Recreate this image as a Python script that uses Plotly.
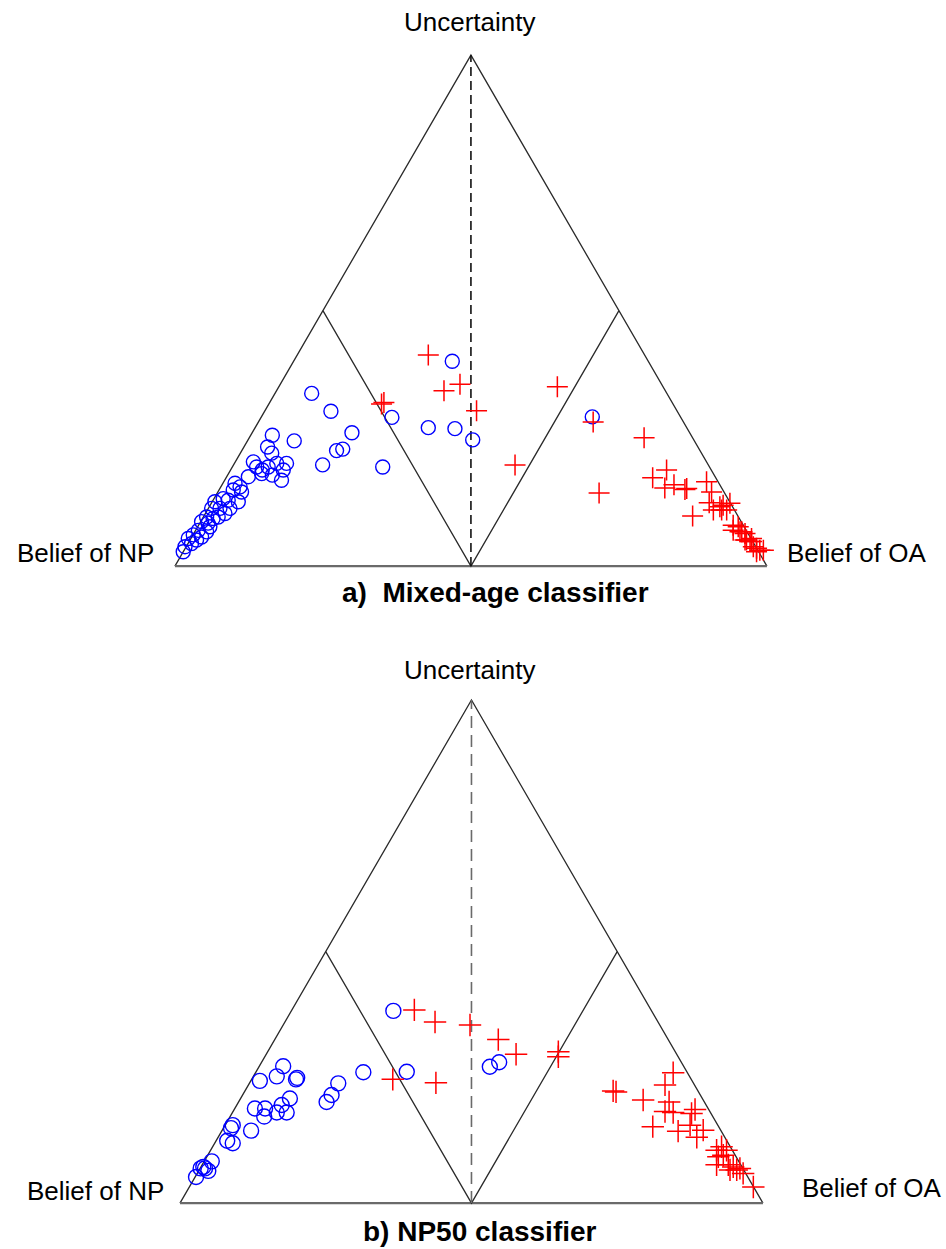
import math
import plotly.graph_objects as go

# ---- data: each sample = (belief(OA) - belief(NP), uncertainty) ----
# a) Mixed-age classifier
mixed_np_diff = [-0.538, -0.473, -0.267, -0.402, -0.501, -0.454, -0.433, -0.298,
                 -0.063, -0.144, -0.054, 0.006, 0.410,
                 -0.671, -0.597, -0.687, -0.673, -0.735, -0.724, -0.705, -0.685, -0.656, -0.623,
                 -0.634, -0.671, -0.640, -0.707, -0.752, -0.797, -0.780, -0.775, -0.803, -0.786,
                 -0.820, -0.837, -0.865, -0.848, -0.814, -0.831, -0.876, -0.871, -0.893, -0.910,
                 -0.888, -0.921, -0.893, -0.938, -0.910, -0.955, -0.927, -0.966, -0.972, -0.944,
                 -0.882, -0.854]
mixed_np_unc = [0.338, 0.303, 0.291, 0.261, 0.198, 0.226, 0.229, 0.194,
                0.401, 0.271, 0.269, 0.247, 0.292,
                0.256, 0.245, 0.233, 0.221, 0.204, 0.194, 0.188, 0.194, 0.201, 0.201,
                0.188, 0.178, 0.168, 0.181, 0.175, 0.162, 0.155, 0.145, 0.149, 0.126,
                0.129, 0.132, 0.126, 0.113, 0.113, 0.103, 0.113, 0.093, 0.096, 0.087,
                0.084, 0.070, 0.067, 0.061, 0.057, 0.054, 0.051, 0.038, 0.028, 0.044,
                0.077, 0.096]
mixed_oa_diff = [-0.144, -0.091, -0.037, 0.019, -0.302, -0.294, 0.149, 0.292, 0.413,
                 0.585, 0.433, 0.661, 0.614, 0.655, 0.686, 0.729, 0.749, 0.796, 0.813,
                 0.805, 0.819, 0.852, 0.875, 0.847, 0.864, 0.886, 0.903, 0.909, 0.926,
                 0.931, 0.948, 0.954, 0.965, 0.976, 0.988, 0.965, 0.943, 0.926, 0.948,
                 0.915, 0.886, 0.723, 0.841]
mixed_oa_unc = [0.413, 0.343, 0.356, 0.304, 0.317, 0.320, 0.198, 0.351, 0.282,
                0.251, 0.143, 0.188, 0.173, 0.153, 0.159, 0.152, 0.098, 0.165, 0.145,
                0.124, 0.110, 0.119, 0.123, 0.110, 0.110, 0.080, 0.077, 0.067, 0.064,
                0.051, 0.048, 0.038, 0.035, 0.031, 0.031, 0.028, 0.048, 0.051, 0.054,
                0.067, 0.070, 0.150, 0.116]

# b) NP50 classifier
np50_np_diff = [-0.646, -0.668, -0.726, -0.602, -0.598, -0.371, -0.222, -0.457, -0.480,
                -0.497, -0.623, -0.651, -0.634, -0.668, -0.708, -0.743, -0.711, -0.756,
                -0.819, -0.825, -0.838, -0.819, -0.891, -0.920, -0.929, -0.903, -0.945,
                -0.914, -0.268, 0.063, 0.095]
np50_np_unc = [0.272, 0.252, 0.243, 0.246, 0.249, 0.260, 0.261, 0.238, 0.215,
               0.201, 0.208, 0.195, 0.180, 0.180, 0.188, 0.188, 0.172, 0.144,
               0.155, 0.149, 0.124, 0.119, 0.083, 0.072, 0.069, 0.064, 0.052,
               0.069, 0.382, 0.271, 0.280]
np50_oa_diff = [-0.196, -0.125, -0.005, 0.092, 0.153, 0.298, 0.298, -0.270, -0.122,
                0.486, 0.496, 0.692, 0.664, 0.589, 0.678, 0.664, 0.692, 0.767, 0.755,
                0.622, 0.709, 0.750, 0.795, 0.773, 0.841, 0.858, 0.875, 0.847, 0.864,
                0.841, 0.881, 0.898, 0.910, 0.921, 0.932, 0.887, 0.967]
np50_oa_unc = [0.384, 0.360, 0.354, 0.325, 0.296, 0.301, 0.291, 0.246, 0.239,
               0.223, 0.221, 0.259, 0.235, 0.205, 0.201, 0.182, 0.180, 0.186, 0.178,
               0.152, 0.143, 0.155, 0.145, 0.131, 0.105, 0.112, 0.105, 0.092, 0.095,
               0.076, 0.076, 0.072, 0.066, 0.069, 0.059, 0.066, 0.032]

H = math.sqrt(3)
FONT = "Liberation Sans, Arial, sans-serif"

def to_xy(diff, unc):
    return list(diff), [u * H for u in unc]

fig = go.Figure()

def add_panel(xa, ya, np_d, np_u, oa_d, oa_u, dash_color, dash_pat, msize):
    # outer triangle
    fig.add_trace(go.Scatter(x=[-1, 0, 1], y=[0, H, 0], mode="lines",
                             line=dict(color="#2a2a2a", width=1.3),
                             xaxis=xa, yaxis=ya, hoverinfo="skip", showlegend=False))
    fig.add_trace(go.Scatter(x=[-1, 1], y=[0, 0], mode="lines",
                             line=dict(color="#6a6a6a", width=2.2),
                             xaxis=xa, yaxis=ya, hoverinfo="skip", showlegend=False))
    # inner lines
    fig.add_trace(go.Scatter(x=[-0.5, 0, 0.5], y=[H / 2, 0, H / 2], mode="lines",
                             line=dict(color="#2a2a2a", width=1.3),
                             xaxis=xa, yaxis=ya, hoverinfo="skip", showlegend=False))
    fig.add_trace(go.Scatter(x=[0, 0], y=[0, H], mode="lines",
                             line=dict(color=dash_color, width=1.6, dash=dash_pat),
                             xaxis=xa, yaxis=ya, hoverinfo="skip", showlegend=False))
    x, y = to_xy(np_d, np_u)
    fig.add_trace(go.Scatter(x=x, y=y, mode="markers", name="NP",
                             marker=dict(symbol="circle-open", size=msize, color="#0000ff",
                                         line=dict(width=1.4, color="#0000ff")),
                             xaxis=xa, yaxis=ya, showlegend=False, cliponaxis=False))
    x, y = to_xy(oa_d, oa_u)
    fig.add_trace(go.Scatter(x=x, y=y, mode="markers", name="OA",
                             marker=dict(symbol="cross-thin-open", size=msize + 1, color="#ff0000",
                                         line=dict(width=1.5, color="#ff0000")),
                             xaxis=xa, yaxis=ya, showlegend=False, cliponaxis=False))

add_panel("x", "y", mixed_np_diff, mixed_np_unc, mixed_oa_diff, mixed_oa_unc,
          "#111111", "9px,5px", 14)
add_panel("x2", "y2", np50_np_diff, np50_np_unc, np50_oa_diff, np50_oa_unc,
          "#6a6a6a", "12px,7px", 15)

ax_common = dict(visible=False, showgrid=False, zeroline=False, fixedrange=True)
fig.update_layout(
    width=946, height=1249,
    margin=dict(l=0, r=0, t=0, b=0),
    paper_bgcolor="white", plot_bgcolor="white",
    xaxis=dict(domain=[0, 1], range=[-1.591, 1.605], anchor="y", **ax_common),
    yaxis=dict(domain=[0.5, 1], range=[-0.198, 1.919], anchor="x", **ax_common),
    xaxis2=dict(domain=[0, 1], range=[-1.6175, 1.628], anchor="y2", **ax_common),
    yaxis2=dict(domain=[0, 0.5], range=[-0.158, 1.992], anchor="x2", **ax_common),
    font=dict(family=FONT, color="black"),
)

def label(text, x, y, xanchor="center", size=26, bold=False):
    fig.add_annotation(text=f"<b>{text}</b>" if bold else text, x=x, y=y,
                       xref="paper", yref="paper", xanchor=xanchor, yanchor="middle",
                       showarrow=False, font=dict(family=FONT, size=size, color="black"))

W, Hpx = 946, 1249
label("Uncertainty", 470 / W, 1 - 22 / Hpx)
label("Belief of NP", 156 / W, 1 - 553 / Hpx, xanchor="right")
label("Belief of OA", 785 / W, 1 - 553 / Hpx, xanchor="left")
label("a)\u00a0\u00a0Mixed-age classifier", 495 / W, 1 - 592 / Hpx, size=28, bold=True)

label("Uncertainty", 470 / W, 1 - 670 / Hpx)
label("Belief of NP", 166 / W, 1 - 1191 / Hpx, xanchor="right")
label("Belief of OA", 800 / W, 1 - 1188 / Hpx, xanchor="left")
label("b) NP50 classifier", 480 / W, 1 - 1231 / Hpx, size=28, bold=True)

fig.write_html("out.html")
